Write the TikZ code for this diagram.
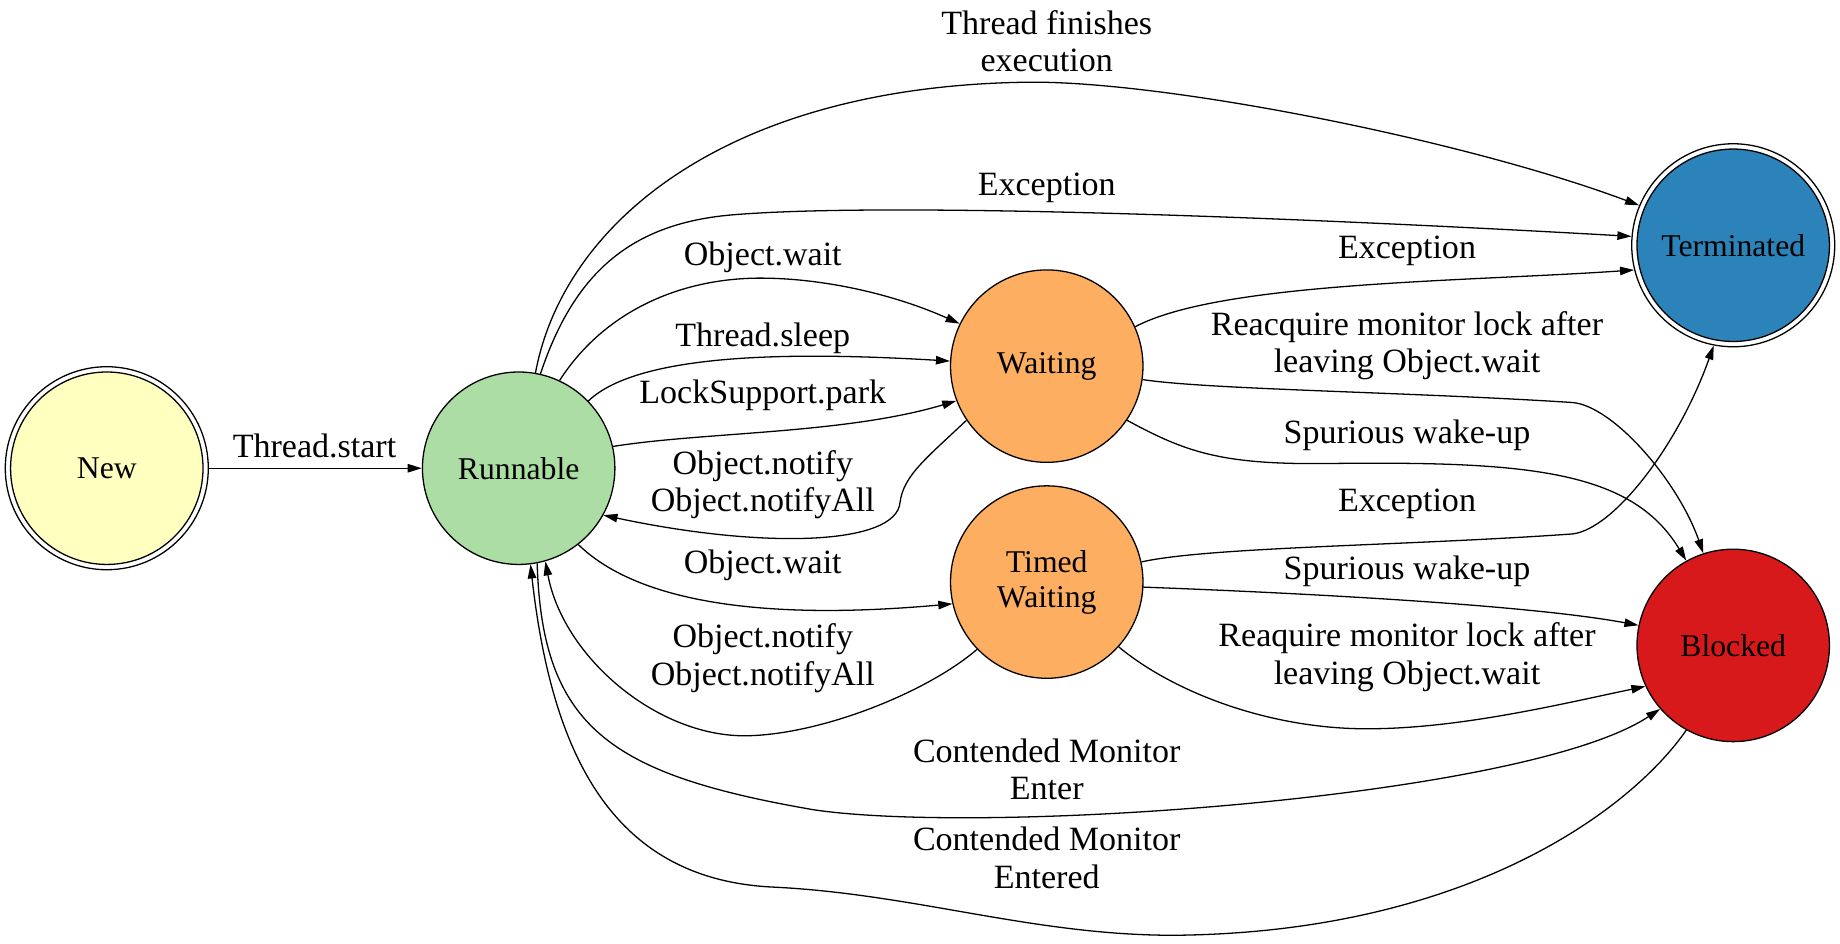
\documentclass[tikz,border=0pt]{standalone}
\usepackage{fontspec}
\setmainfont{Liberation Serif}
\usetikzlibrary{arrows.meta}
\definecolor{cNew}{HTML}{FFFFBF}
\definecolor{cRun}{HTML}{ABDDA4}
\definecolor{cWait}{HTML}{FDAE61}
\definecolor{cTerm}{HTML}{2B83BA}
\definecolor{cBlock}{HTML}{D7191C}
\begin{document}
\begin{tikzpicture}[x=0.5pt,y=-0.5pt,
  state/.style={circle, draw=black, line width=0.55pt, minimum size=82pt, inner sep=0pt, font=\fontsize{13.5}{15}\selectfont, align=center},
  ring/.style={circle, draw=black, line width=0.55pt, minimum size=86.5pt, inner sep=0pt},
  tr/.style={draw=black, line width=0.55pt, -{Triangle[length=6pt,width=3.6pt]}},
  lbl/.style={font=\fontsize{14.5}{16}\selectfont, align=center, inner sep=0pt},
]
\useasboundingbox (0,0) rectangle (1568,804);

% states
\node[ring] (New) at (91,399) {};
\node[state, fill=cNew] (NewIn) at (New) {New};
\node[state, fill=cRun] (R) at (442,399) {Runnable};
\node[state, fill=cWait] (W) at (892,312) {Waiting};
\node[state, fill=cWait] (TW) at (892,496) {Timed\\Waiting};
\node[ring] (T) at (1477,209) {};
\node[state, fill=cTerm] (TIn) at (T) {Terminated};
\node[state, fill=cBlock] (B) at (1477,550) {Blocked};

% labels
\node[lbl] (lStart) at (268,380) {Thread.start};
\node[lbl] (lFin) at (892,35) {Thread finishes\\execution};
\node[lbl] (lExc1) at (892,160) {Exception};
\node[lbl] (lWait1) at (650,219) {Object.wait};
\node[lbl] (lSleep) at (650,288) {Thread.sleep};
\node[lbl] (lPark) at (650,337) {LockSupport.park};
\node[lbl] (lNot1) at (650,413) {Object.notify\\Object.notifyAll};
\node[lbl] (lWait2) at (650,482) {Object.wait};
\node[lbl] (lNot2) at (650,561) {Object.notify\\Object.notifyAll};
\node[lbl] (lEnter) at (892,655.5) {Contended Monitor\\Enter};
\node[lbl] (lEntered) at (892,731) {Contended Monitor\\Entered};
\node[lbl] (lExc2) at (1199,214) {Exception};
\node[lbl] (lReacq1) at (1199,294.5) {Reacquire monitor lock after\\leaving Object.wait};
\node[lbl] (lSpur1) at (1199,371) {Spurious wake-up};
\node[lbl] (lExc3) at (1199,429) {Exception};
\node[lbl] (lSpur2) at (1199,487) {Spurious wake-up};
\node[lbl] (lReacq2) at (1199,560) {Reaquire monitor lock after\\leaving Object.wait};

% transitions
\draw[tr] (New) -- (R);
\draw[tr] (R.80) .. controls (480,190) and (620,72) .. (880,70) .. controls (1000,70) and (1250,120) .. (T.157);
\draw[tr] (R.77) .. controls (490,230) and (540,190) .. (625,183) .. controls (760,172) and (1100,185) .. (T.175);
\draw[tr] (R.65) .. controls (515,265) and (580,237) .. (648,237) .. controls (700,237) and (760,250) .. (W.154);
\draw[tr] (R.44) .. controls (545,300) and (680,300) .. (W.177);
\draw[tr] (R.13) .. controls (600,368) and (720,370) .. (W.-159);
\draw[tr] (W.-146) .. controls (790,390) and (770,405) .. (767,428) .. controls (764,465) and (650,468) .. (R.-29);
\draw[tr] (R.-52) .. controls (540,510) and (640,530) .. (TW.-167);
\draw[tr] (TW.-136) .. controls (790,590) and (700,626) .. (636,627) .. controls (560,628) and (480,560) .. (R.-74);
\draw[tr] (R.-79) .. controls (462,620) and (520,660) .. (693,690) .. controls (840,712) and (1300,680) .. (B.221);
\draw[tr] (B.241) .. controls (1390,690) and (1250,795) .. (1000,797) .. controls (880,797) and (780,762) .. (660,756) .. controls (520,750) and (470,640) .. (R.-83);
\draw[tr] (W.24) .. controls (1040,240) and (1250,240) .. (T.194);
\draw[tr] (W.-8) .. controls (1030,332) and (1200,334) .. (1340,343) .. controls (1375,346) and (1430,410) .. (B.108);
\draw[tr] (W.-34) .. controls (1010,385) and (1040,396) .. (1130,395) .. controls (1300,393) and (1390,400) .. (B.119);
\draw[tr] (TW.12) .. controls (1030,466) and (1200,465) .. (1340,455) .. controls (1375,451) and (1430,380) .. (T.-101);
\draw[tr] (TW.-3) .. controls (1100,505) and (1300,515) .. (B.168);
\draw[tr] (TW.-42) .. controls (1000,590) and (1080,620) .. (1160,621) .. controls (1240,622) and (1330,600) .. (B.205);
\end{tikzpicture}
\end{document}
